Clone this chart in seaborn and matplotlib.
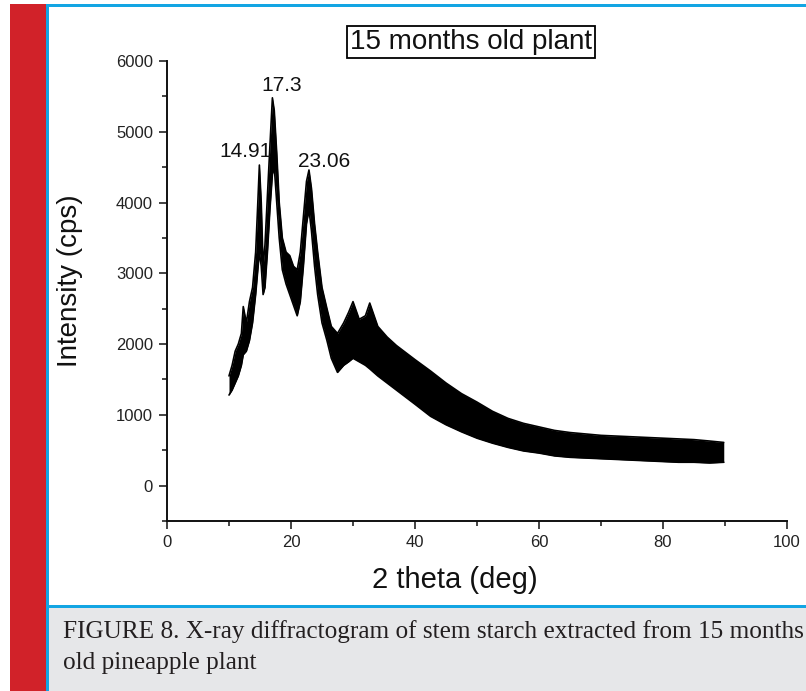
import numpy as np
import pandas as pd
import matplotlib
matplotlib.use("Agg")
import matplotlib.pyplot as plt
from matplotlib.patches import Rectangle
from matplotlib.ticker import MultipleLocator
import seaborn as sns

# ---- data: envelope of the noisy XRD trace ----
two_theta = [10.0, 10.5, 11.0, 11.5, 12.0, 12.3, 12.8, 13.3, 13.8, 14.3, 14.6, 14.9,
             15.2, 15.5, 15.8, 16.2, 16.6, 17.0, 17.3, 17.7, 18.1, 18.6, 19.2, 19.8,
             20.4, 21.0, 21.5, 22.0, 22.5, 22.9, 23.3, 23.8, 24.3, 25.0, 25.8, 26.5,
             27.5, 28.5, 29.3, 30.0, 31.0, 32.0, 32.7, 34.0, 35.5, 37.0, 38.5, 40.0,
             42.5, 45.0, 47.5, 50.0, 52.5, 55.0, 57.5, 60.0, 62.5, 65.0, 67.5, 70.0,
             72.5, 75.0, 77.5, 80.0, 82.5, 85.0, 87.5, 89.8]
upper = [1550, 1700, 1900, 2000, 2150, 2530, 2300, 2600, 2800, 3300, 3900, 4530,
         4000, 3100, 3400, 4100, 4800, 5480, 5300, 4700, 4000, 3500, 3300, 3250,
         3100, 3050, 3300, 3800, 4300, 4460, 4200, 3700, 3300, 2800, 2500, 2250,
         2150, 2300, 2450, 2600, 2350, 2400, 2580, 2250, 2100, 1980, 1880, 1780,
         1620, 1450, 1300, 1180, 1050, 950, 880, 830, 780, 750, 730, 710,
         700, 690, 680, 670, 660, 650, 630, 610]
lower = [1280, 1350, 1450, 1550, 1700, 1850, 1900, 2050, 2300, 2700, 3000, 3300,
         3100, 2700, 2800, 3300, 3900, 4400, 4500, 4000, 3500, 3050, 2850, 2700,
         2550, 2400, 2600, 3100, 3700, 3900, 3600, 3100, 2700, 2300, 2050, 1800,
         1600, 1700, 1750, 1800, 1750, 1700, 1650, 1550, 1450, 1350, 1250, 1150,
         980, 860, 760, 670, 600, 540, 490, 460, 420, 400, 390, 380,
         370, 360, 350, 340, 330, 330, 320, 330]

peak_labels = ["14.91", "17.3", "23.06"]
label_x = [12.6, 18.5, 25.3]
label_y = [4720, 5660, 4580]

x_ticks = [0, 20, 40, 60, 80, 100]
y_ticks = [0, 1000, 2000, 3000, 4000, 5000, 6000]

title_text = "15 months old plant"
x_label = "2 theta (deg)"
y_label = "Intensity (cps)"
caption1 = "FIGURE 8. X-ray diffractogram of stem starch extracted from 15 months"
caption2 = "old pineapple plant"

df = pd.DataFrame({"two_theta": two_theta, "upper": upper, "lower": lower})

# ---- figure ----
W, H = 806, 691
sns.set_theme(style="white")
plt.rcParams["font.family"] = ["Liberation Sans", "DejaVu Sans"]
fig = plt.figure(figsize=(W / 100, H / 100), dpi=100)

def fx(px):
    return px / W

def fy(py):
    return 1 - py / H

# decorations (frame of the page)
red = "#d12229"
blue = "#13a5e3"
fig.add_artist(Rectangle((fx(10), 0), fx(36), fy(4), transform=fig.transFigure,
                         color=red, lw=0, zorder=0))
fig.add_artist(Rectangle((fx(49), 0), fx(W - 49), fy(608), transform=fig.transFigure,
                         color="#e6e7e9", lw=0, zorder=0))
fig.add_artist(Rectangle((fx(46), 0), fx(3), fy(4), transform=fig.transFigure,
                         color=blue, lw=0, zorder=1))
fig.add_artist(Rectangle((fx(46), fy(7)), fx(W - 46), 3 / H, transform=fig.transFigure,
                         color=blue, lw=0, zorder=1))
fig.add_artist(Rectangle((fx(49), fy(608)), fx(W - 49), 3 / H, transform=fig.transFigure,
                         color=blue, lw=0, zorder=1))

# axes
ax = fig.add_axes([fx(167), fy(521), fx(787 - 167), (521 - 61) / H])
ax.set_facecolor("none")
ax.fill_between(df["two_theta"], df["lower"], df["upper"], color="black", lw=0)
sns.lineplot(data=df, x="two_theta", y="upper", ax=ax, color="black", lw=1.2)
sns.lineplot(data=df, x="two_theta", y="lower", ax=ax, color="black", lw=1.2)

ax.set_xlim(0, 100)
ax.set_ylim(-500, 6000)
ax.set_xticks(x_ticks)
ax.set_yticks(y_ticks)
ax.xaxis.set_minor_locator(MultipleLocator(10))
ax.yaxis.set_minor_locator(MultipleLocator(500))
for s in ["top", "right"]:
    ax.spines[s].set_visible(False)
for s in ["left", "bottom"]:
    ax.spines[s].set_linewidth(1.4)
    ax.spines[s].set_color("#111111")
ax.tick_params(which="major", direction="out", length=6, width=1.1, color="#111111",
               labelsize=12, labelcolor="#222222", pad=4, bottom=True, left=True)
ax.tick_params(which="minor", direction="out", length=3.5, width=1.1, color="#111111",
               bottom=True, left=True)
ax.set_xlabel("")
ax.set_ylabel("")
fig.text(fx(455), fy(580), x_label, fontsize=21, ha="center", va="center",
         color="#111111")
fig.text(fx(70), fy(281), y_label, fontsize=20, ha="center", va="center",
         rotation=90, color="#111111")

for lx, ly, t in zip(label_x, label_y, peak_labels):
    ax.text(lx, ly, t, fontsize=15, ha="center", va="center", color="#111111")

fig.text(fx(471), fy(42), title_text, fontsize=20, ha="center", va="center",
         color="#111111",
         bbox=dict(boxstyle="square,pad=0.1", fc="white", ec="black", lw=1.3))

# caption
t1 = fig.text(fx(63), fy(638), caption1, fontsize=16, ha="left", va="baseline",
              family="Liberation Serif", color="#231f20")
fig.canvas.draw()
w = t1.get_window_extent().width
fs = 16 * 740 / w
t1.set_fontsize(fs)
fig.text(fx(63), fy(669), caption2, fontsize=fs, ha="left", va="baseline",
         family="Liberation Serif", color="#231f20")

fig.savefig("out.png", dpi=100)
